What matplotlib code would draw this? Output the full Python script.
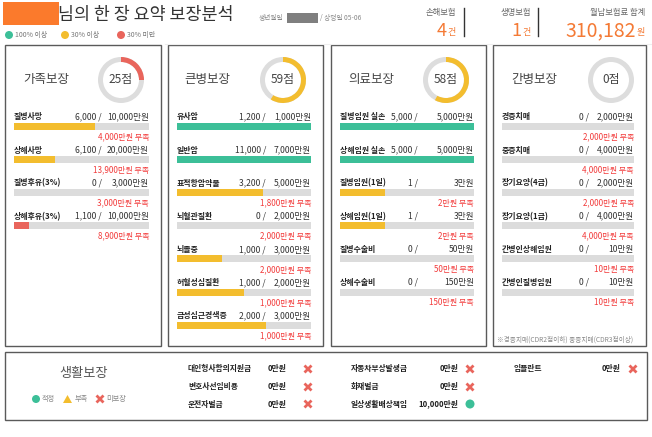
import matplotlib
matplotlib.use("Agg")
import matplotlib.pyplot as plt
from matplotlib.patches import Rectangle, Wedge, Circle, Polygon

plt.rcParams['font.family'] = ['Noto Sans CJK KR', 'DejaVu Sans']

# ---- data ----
panel_titles = ['가족보장', '큰병보장', '의료보장', '간병보장']
panel_scores = [25, 59, 58, 0]

family_labels = ['질병사망', '상해사망', '질병후유(3%)', '상해후유(3%)']
family_have = [6000, 6100, 0, 1100]
family_need = [10000, 20000, 3000, 10000]

major_labels = ['유사암', '일반암', '표적항암약물', '뇌혈관질환', '뇌졸중', '허혈성심질환', '급성심근경색증']
major_have = [1200, 11000, 3200, 0, 1000, 1000, 2000]
major_need = [1000, 7000, 5000, 2000, 3000, 2000, 3000]

medical_labels = ['질병입원 실손', '상해입원 실손', '질병입원(1일)', '상해입원(1일)', '질병수술비', '상해수술비']
medical_have = [5000, 5000, 1, 1, 0, 0]
medical_need = [5000, 5000, 3, 3, 50, 150]

care_labels = ['경증치매', '중증치매', '장기요양(4급)', '장기요양(1급)', '간병인상해입원', '간병인질병입원']
care_have = [0, 0, 0, 0, 0, 0]
care_need = [2000, 4000, 2000, 4000, 10, 10]

life_labels = ['대인형사합의지원금', '변호사선임비용', '운전자벌금',
               '자동차부상발생금', '화재벌금', '일상생활배상책임', '임플란트']
life_amounts = [0, 0, 0, 0, 0, 10000, 0]

damage_count = 4
life_count = 1
monthly_total = 310182

# ---- style ----
GREEN = '#3cbf98'
YELLOW = '#f3bd2e'
RED = '#e9655c'
GRAY = '#dcdcdc'
ORANGE = '#f47a35'
DEF_RED = '#f23a3a'
BORDER = '#5a5a5a'


def ratio_color(r):
    if r >= 1:
        return GREEN
    if r >= 0.3:
        return YELLOW
    return RED


fig = plt.figure(figsize=(6.52, 4.37), dpi=100)
ax = fig.add_axes([0, 0, 1, 1])
ax.set_xlim(0, 652)
ax.set_ylim(437, 0)
ax.axis('off')

# ---- header ----
ax.add_patch(Rectangle((3, 2), 56, 23, color='#fb7a2c', lw=0))
ax.text(58, 15, '님의 한 장 요약 보장분석', fontsize=12.5, color='#333333', va='center', ha='left')
ax.text(259, 18, '생년월일', fontsize=4.8, color='#888888', va='center')
ax.add_patch(Rectangle((287, 13), 31, 10, color='#7f7f7f', lw=0))
ax.text(320, 18, '/ 상령일 05-06', fontsize=4.8, color='#888888', va='center')

legend_items = [(9, GREEN, '100% 이상'), (65, YELLOW, '30% 이상'), (121, RED, '30% 미만')]
for x, c, t in legend_items:
    ax.add_patch(Circle((x, 35), 4, color=c, lw=0))
    ax.text(x + 6, 35, t, fontsize=5, color='#777777', va='center')


def header_stat(xr, label, num, unit, numsize):
    ax.text(xr, 13, label, fontsize=6, color='#666666', ha='right', va='center')
    ax.text(xr, 32, unit, fontsize=6.5, color=ORANGE, ha='right', va='center')
    ax.text(xr - 9.5, 31, num, fontsize=numsize, color=ORANGE, ha='right', va='center')


header_stat(456, '손해보험', str(damage_count), '건', 13)
header_stat(531, '생명보험', str(life_count), '건', 13)
header_stat(645, '월납보험료 합계', f'{monthly_total:,}', '원', 14)
ax.plot([464, 464], [8, 36], color='#333333', lw=1)
ax.plot([538, 538], [8, 36], color='#333333', lw=1)
ax.plot([165, 652], [43.5, 43.5], color='#eeeeee', lw=0.8)

# ---- panels ----
panels = [
    (5, 161, family_labels, family_have, family_need, 102),
    (168, 323, major_labels, major_have, major_need, 266),
    (331, 486, medical_labels, medical_have, medical_need, 418),
    (493, 646, care_labels, care_have, care_need, 589),
]
title_cx = [46, 207, 371, 534]
donut_cx = [121, 283, 446, 611]

for pi, (x0, x1, labels, have, need, slash_x) in enumerate(panels):
    ax.add_patch(Rectangle((x0, 45), x1 - x0, 301, fill=False, ec=BORDER, lw=1))
    ax.text(title_cx[pi], 80, panel_titles[pi], fontsize=9, color='#444444',
            ha='center', va='center')
    # donut
    score = panel_scores[pi]
    c = (donut_cx[pi], 80)
    ax.add_patch(Wedge(c, 23, 0, 360, width=5, color='#dddddd', lw=0))
    if score > 0:
        ax.add_patch(Wedge(c, 23, 270, 270 + score * 3.6, width=5,
                           color=ratio_color(score / 100), lw=0))
    ax.text(c[0], c[1], f'{score}점', fontsize=8.5, color='#444444', ha='center', va='center')

    bx0 = x0 + 9
    bx1 = x1 - 12
    bw = bx1 - bx0
    for i, lab in enumerate(labels):
        y = 117 + 33.1 * i
        ax.text(bx0, y, lab, fontsize=5.7, color='#222222', weight='bold', va='center', ha='left')
        ax.text(slash_x, y, f'{have[i]:,} /', fontsize=6.2, color='#333333', va='center', ha='right')
        ax.text(bx1, y, f'{need[i]:,}만원', fontsize=6.2, color='#333333', va='center', ha='right')
        r = have[i] / need[i]
        ax.add_patch(Rectangle((bx0, y + 6), bw, 7, color=GRAY, lw=0))
        if r > 0:
            ax.add_patch(Rectangle((bx0, y + 6), bw * min(r, 1), 7, color=ratio_color(r), lw=0))
        if r < 1:
            ax.text(bx1, y + 20, f'{need[i] - have[i]:,}만원 부족', fontsize=5.8,
                    color=DEF_RED, va='center', ha='right')

ax.text(497, 340, '※경증치매(CDR2점이하) 중증치매(CDR3점이상)', fontsize=4.8,
        color='#888888', va='center', ha='left')

# ---- bottom: 생활보장 ----
ax.add_patch(Rectangle((5, 352), 642, 68, fill=False, ec=BORDER, lw=1))
ax.text(84, 374, '생활보장', fontsize=9.5, color='#555555', ha='center', va='center')


def draw_x(x, y, s=3.5):
    ax.plot([x - s, x + s], [y - s, y + s], color=RED, lw=2, solid_capstyle='butt')
    ax.plot([x - s, x + s], [y + s, y - s], color=RED, lw=2, solid_capstyle='butt')


ax.add_patch(Circle((36, 399), 4, color=GREEN, lw=0))
ax.text(42, 399, '적정', fontsize=5.2, color='#888888', va='center')
ax.add_patch(Polygon([[63, 403], [72, 403], [67.5, 395]], color=YELLOW, lw=0))
ax.text(75, 399, '부족', fontsize=5.2, color='#888888', va='center')
draw_x(100, 399)
ax.text(106, 399, '미보장', fontsize=5.2, color='#888888', va='center')

cols = [(188, 286, 308), (351, 458, 470), (514, 620, 633)]
rows_y = [369, 387, 404]
for k, lab in enumerate(life_labels):
    lx, ax_r, mx = cols[k // 3]
    y = rows_y[k % 3]
    ax.text(lx, y, lab, fontsize=5.6, color='#222222', weight='bold', va='center', ha='left')
    ax.text(ax_r, y, f'{life_amounts[k]:,}만원', fontsize=5.6, color='#222222',
            weight='bold', va='center', ha='right')
    if life_amounts[k] > 0:
        ax.add_patch(Circle((mx, y), 4.5, color=GREEN, lw=0))
    else:
        draw_x(mx, y)

fig.savefig('out.png', dpi=100)
